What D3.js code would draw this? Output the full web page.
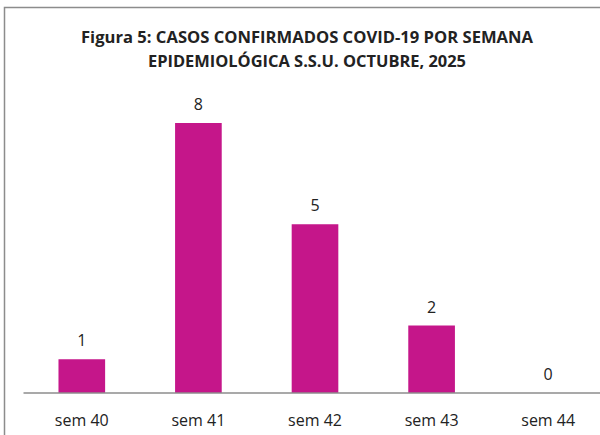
<!DOCTYPE html>
<html>
<head>
<meta charset="utf-8">
<script src="https://cdn.jsdelivr.net/npm/d3@7"></script>
<style>
  body { margin: 0; background: #fff; }
  text { font-family: "Open Sans", "Noto Sans", sans-serif; fill: #222; }
</style>
</head>
<body>
<svg id="chart" width="600" height="435"></svg>
<script>
const weeks = ["sem 40", "sem 41", "sem 42", "sem 43", "sem 44"];
const cases = [1, 8, 5, 2, 0];
const titleLines = ["Figura 5: CASOS CONFIRMADOS COVID-19 POR SEMANA",
                    "EPIDEMIOLÓGICA S.S.U. OCTUBRE, 2025"];
const titleWidths = [452, 318];

const svg = d3.select("#chart"),
    width = +svg.attr("width"),
    height = +svg.attr("height");

// chart frame (right/bottom edges fall outside the picture)
svg.append("rect")
    .attr("x", 4.5).attr("y", 7.5)
    .attr("width", 620).attr("height", 460)
    .attr("fill", "none")
    .attr("stroke", "#8c8c8c")
    .attr("stroke-width", 1.5);

const x = d3.scaleBand()
    .domain(weeks)
    .range([23.5, 606.5])
    .paddingInner(0.6)
    .paddingOuter(0.3);

const y = d3.scaleLinear()
    .domain([0, 8])
    .range([393, 123]);

svg.selectAll(".bar")
    .data(cases)
    .enter().append("rect")
    .attr("class", "bar")
    .attr("x", (d, i) => x(weeks[i]))
    .attr("y", d => y(d))
    .attr("width", x.bandwidth())
    .attr("height", d => y(0) - y(d))
    .attr("fill", "#c5168a");

// baseline axis
const axis = svg.append("g")
    .attr("transform", "translate(0," + y(0) + ")")
    .call(d3.axisBottom(x).tickSize(0).tickPadding(18));
axis.select(".domain").attr("stroke", "#8c8c8c").attr("stroke-width", 1.5)
    .attr("d", "M23.5,0H606.5");
axis.selectAll(".tick text")
    .attr("font-size", 16)
    .attr("font-family", "Open Sans, sans-serif")
    .attr("fill", "#222")
    .attr("dy", "0.95em");

// value labels
svg.selectAll(".val")
    .data(cases)
    .enter().append("text")
    .attr("class", "val")
    .attr("x", (d, i) => x(weeks[i]) + x.bandwidth() / 2)
    .attr("y", d => y(d) - 13)
    .attr("text-anchor", "middle")
    .attr("font-size", 16)
    .text(d => d);

// title (squeezed a little to mimic the narrow original font)
const title = svg.append("text")
    .attr("text-anchor", "middle")
    .attr("font-weight", "bold")
    .attr("font-size", 16.5);
title.selectAll("tspan")
    .data(titleLines)
    .enter().append("tspan")
    .attr("x", 307)
    .attr("y", (d, i) => 43 + i * 24)
    .attr("textLength", (d, i) => titleWidths[i])
    .attr("lengthAdjust", "spacingAndGlyphs")
    .text(d => d);
</script>
</body>
</html>
